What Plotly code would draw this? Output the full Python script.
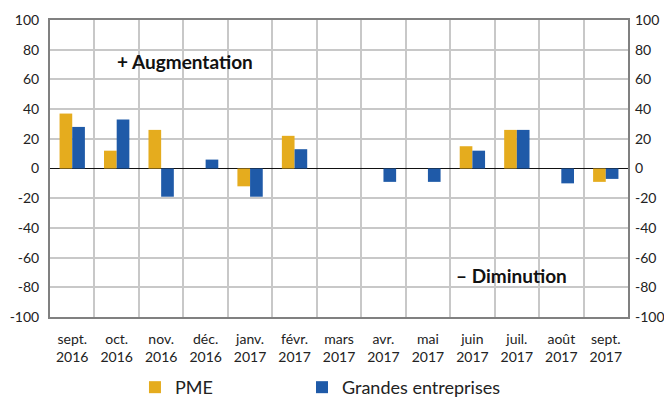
import plotly.graph_objects as go

categories = ["sept.<br>2016", "oct.<br>2016", "nov.<br>2016", "déc.<br>2016", "janv.<br>2017",
              "févr.<br>2017", "mars<br>2017", "avr.<br>2017", "mai<br>2017", "juin<br>2017",
              "juil.<br>2017", "août<br>2017", "sept.<br>2017"]
pme = [37, 12, 26, 0, -12, 22, 0, 0, 0, 15, 26, 0, -9]
grandes = [28, 33, -19, 6, -19, 13, 0, -9, -9, 12, 26, -10, -7]
y_ticks = [-100, -80, -60, -40, -20, 0, 20, 40, 60, 80, 100]
y_ticktext = [str(v) for v in y_ticks]

FONT = "Lato"
fig = go.Figure()
fig.add_trace(go.Bar(x=categories, y=pme, name="PME", legend="legend",
                     marker=dict(color="#E5AC1E", line=dict(width=0))))
fig.add_trace(go.Bar(x=categories, y=grandes, name="Grandes entreprises", legend="legend2",
                     marker=dict(color="#1F5AA8", line=dict(width=0))))
fig.add_trace(go.Scatter(x=categories, y=grandes, yaxis="y2", mode="none", showlegend=False, hoverinfo="skip"))

legend_common = dict(orientation="h", xanchor="left", y=-0.175, yanchor="top",
                     font=dict(size=18), itemwidth=30, bgcolor="rgba(0,0,0,0)")

fig.update_layout(
    width=664, height=393,
    margin=dict(l=42, r=44, t=12, b=84, autoexpand=False),
    paper_bgcolor="white", plot_bgcolor="white",
    barmode="group", bargap=0.43, bargroupgap=0,
    font=dict(family=FONT, size=14, color="#222"),
    xaxis=dict(type="category", tickson="boundaries", showgrid=True, gridcolor="#C8C8C8", gridwidth=1.5,
               ticks="", showline=True, linecolor="#808080", linewidth=2, mirror=True,
               tickfont=dict(size=14), ticklabelstandoff=8),
    yaxis=dict(range=[-100, 100], tickvals=y_ticks, ticktext=y_ticktext, showgrid=True, gridcolor="#C8C8C8", gridwidth=1.5,
               zeroline=True, zerolinecolor="#111", zerolinewidth=1,
               showline=True, linecolor="#808080", linewidth=2, mirror=True, ticks="",
               tickfont=dict(size=14), ticklabelstandoff=6),
    yaxis2=dict(range=[-100, 100], tickvals=y_ticks, ticktext=y_ticktext, overlaying="y", side="right", showgrid=False,
                zeroline=False, ticks="", tickfont=dict(size=14), ticklabelstandoff=6),
    legend=dict(x=0.147, **legend_common),
    legend2=dict(x=0.436, **legend_common),
    annotations=[
        dict(text="<b>+ Augmentation</b>", x=0.233, y=0.859, xref="paper", yref="paper", showarrow=False,
             xanchor="center", yanchor="middle", font=dict(size=19, color="#111")),
        dict(text="<b>– Diminution</b>", x=0.798, y=0.141, xref="paper", yref="paper", showarrow=False,
             xanchor="center", yanchor="middle", font=dict(size=19, color="#111")),
    ],
)
fig.write_html("out.html")
